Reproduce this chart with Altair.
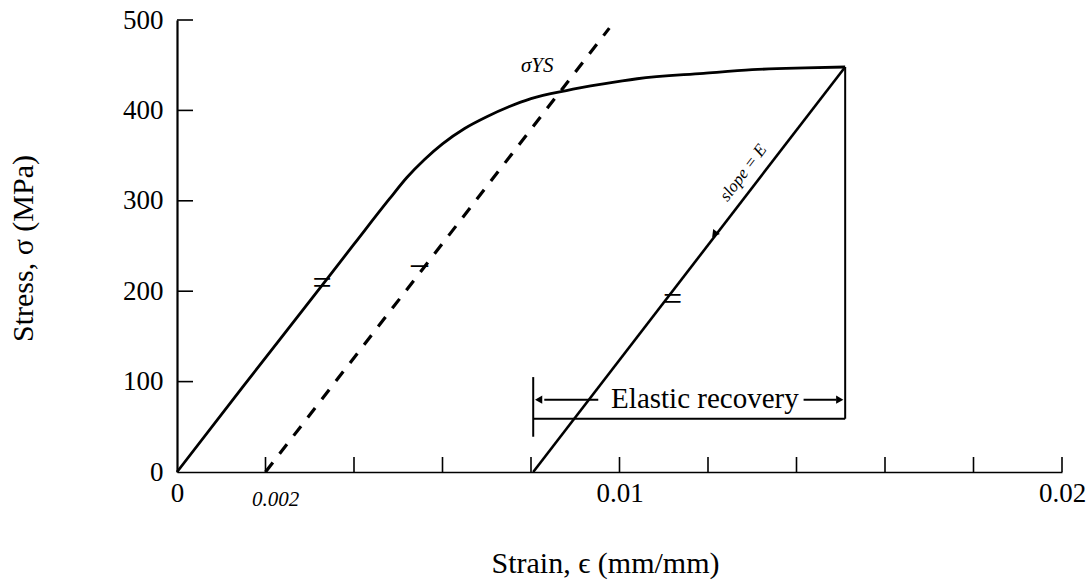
import altair as alt
import pandas as pd

# ---- data ----
curve_strain = [0.0, 0.0015, 0.0030, 0.0040, 0.0048, 0.0052, 0.0056, 0.0060, 0.0065, 0.0070,
                0.0075, 0.0080, 0.0088, 0.0096, 0.0104, 0.0119, 0.0130, 0.0142, 0.0151]
curve_stress = [0, 95, 189, 252, 302, 326, 346, 363, 380, 393,
                404, 413, 422, 429, 435, 441, 445, 447, 448]

offset_strain = [0.002, 0.00977]
offset_stress = [0, 491]

unload_strain = [0.0151, 0.00805]
unload_stress = [448, 0]

# construction lines of the "elastic recovery" bracket: x, x2, y, y2
seg_x = [0.0151, 0.00805, 0.00805, 0.00952, 0.01416]
seg_x2 = [0.0151, 0.0151, 0.00805, 0.0083, 0.01490]
seg_y = [448, 59, 39, 80, 80]
seg_y2 = [59, 59, 105, 80, 80]

head_strain = [0.0082, 0.01495, 0.01216]
head_stress = [80, 80, 264]
head_angle = [270, 90, 217]

x_label_values = [0.0, 0.01, 0.02]
y_label_values = [0, 100, 200, 300, 400, 500]
x_tick_values = [0.002, 0.004, 0.006, 0.008, 0.010, 0.012, 0.014, 0.016, 0.018, 0.020]
y_tick_values = [100, 200, 300, 400, 500]

notes_text = ["Elastic recovery"]
notes_strain = [0.01193]
notes_stress = [81]

hand_text = ["σYS", "0.002"]
hand_strain = [0.00814, 0.00223]
hand_stress = [449, -31]

slope_text = ["slope = E"]
slope_strain = [0.0128]
slope_stress = [331]

par_text = ["=", "=", "–"]
par_strain = [0.00328, 0.0112, 0.00548]
par_stress = [208, 190, 230]

SERIF = "Liberation Serif"

xscale = alt.Scale(domain=[0, 0.02], nice=False, zero=False)
yscale = alt.Scale(domain=[0, 500], nice=False, zero=False)

xaxis = alt.Axis(
    values=x_label_values, format=".2~f", ticks=False, grid=False,
    domainColor="black", domainWidth=1.6, labelFont=SERIF, labelFontSize=27,
    labelColor="black", labelPadding=8, labelFlush=False,
    title="Strain, ϵ (mm/mm)", titleFont=SERIF, titleFontSize=30,
    titleFontWeight="normal", titleColor="black", titleX=428, titleY=76,
)
yaxis = alt.Axis(
    values=y_label_values, ticks=False, grid=False,
    domainColor="black", domainWidth=2.2, labelFont=SERIF, labelFontSize=27,
    labelColor="black", labelPadding=14,
    title="Stress, σ (MPa)", titleFont=SERIF, titleFontSize=30,
    titleFontWeight="normal", titleColor="black", titleX=-139, titleY=228,
)

X = alt.X("strain:Q", scale=xscale, axis=xaxis)
Y = alt.Y("stress:Q", scale=yscale, axis=yaxis)

curve = alt.Chart(pd.DataFrame({"strain": curve_strain, "stress": curve_stress})).mark_line(
    color="black", strokeWidth=2.8, interpolate="monotone"
).encode(x=X, y=Y)

offset = alt.Chart(pd.DataFrame({"strain": offset_strain, "stress": offset_stress})).mark_line(
    color="black", strokeWidth=3.2, strokeDash=[12, 11]
).encode(x=X, y=Y)

unload = alt.Chart(pd.DataFrame({"strain": unload_strain, "stress": unload_stress})).mark_line(
    color="black", strokeWidth=2.6
).encode(x=X, y=Y)

segs = alt.Chart(pd.DataFrame({"strain": seg_x, "strain2": seg_x2, "stress": seg_y, "stress2": seg_y2})).mark_rule(
    color="black", strokeWidth=2
).encode(x=X, x2="strain2:Q", y=Y, y2="stress2:Q")

heads = alt.Chart(pd.DataFrame({"strain": head_strain, "stress": head_stress, "ang": head_angle})).mark_point(
    shape="triangle", filled=True, color="black", size=70, opacity=1
).encode(x=X, y=Y, angle=alt.Angle("ang:Q", scale=None))

xt = alt.Chart(pd.DataFrame({"strain": x_tick_values})).mark_rule(color="black", strokeWidth=1.6).encode(
    x=X, y=alt.value(452), y2=alt.value(437)
)
yt = alt.Chart(pd.DataFrame({"stress": y_tick_values})).mark_rule(color="black", strokeWidth=1.6).encode(
    y=Y, x=alt.value(0), x2=alt.value(16)
)

notes = alt.Chart(pd.DataFrame({"strain": notes_strain, "stress": notes_stress, "t": notes_text})).mark_text(
    font=SERIF, fontSize=29, color="black"
).encode(x=X, y=Y, text="t:N")

hand = alt.Chart(pd.DataFrame({"strain": hand_strain, "stress": hand_stress, "t": hand_text})).mark_text(
    font=SERIF, fontSize=21, fontStyle="italic", color="black"
).encode(x=X, y=Y, text="t:N")

slope = alt.Chart(pd.DataFrame({"strain": slope_strain, "stress": slope_stress, "t": slope_text})).mark_text(
    font=SERIF, fontSize=17, fontStyle="italic", color="black", angle=307
).encode(x=X, y=Y, text="t:N")

par = alt.Chart(pd.DataFrame({"strain": par_strain, "stress": par_stress, "t": par_text})).mark_text(
    font=SERIF, fontSize=34, color="black"
).encode(x=X, y=Y, text="t:N")

chart = alt.layer(curve, offset, unload, segs, heads, xt, yt, notes, hand, slope, par).properties(
    width=885, height=452,
    autosize=alt.AutoSizeParams(type="none"),
    padding={"left": 177, "top": 20, "right": 28, "bottom": 109},
    background="white",
).configure_view(stroke=None)

chart.save("out.html", embed_options={"renderer": "svg", "actions": False})
